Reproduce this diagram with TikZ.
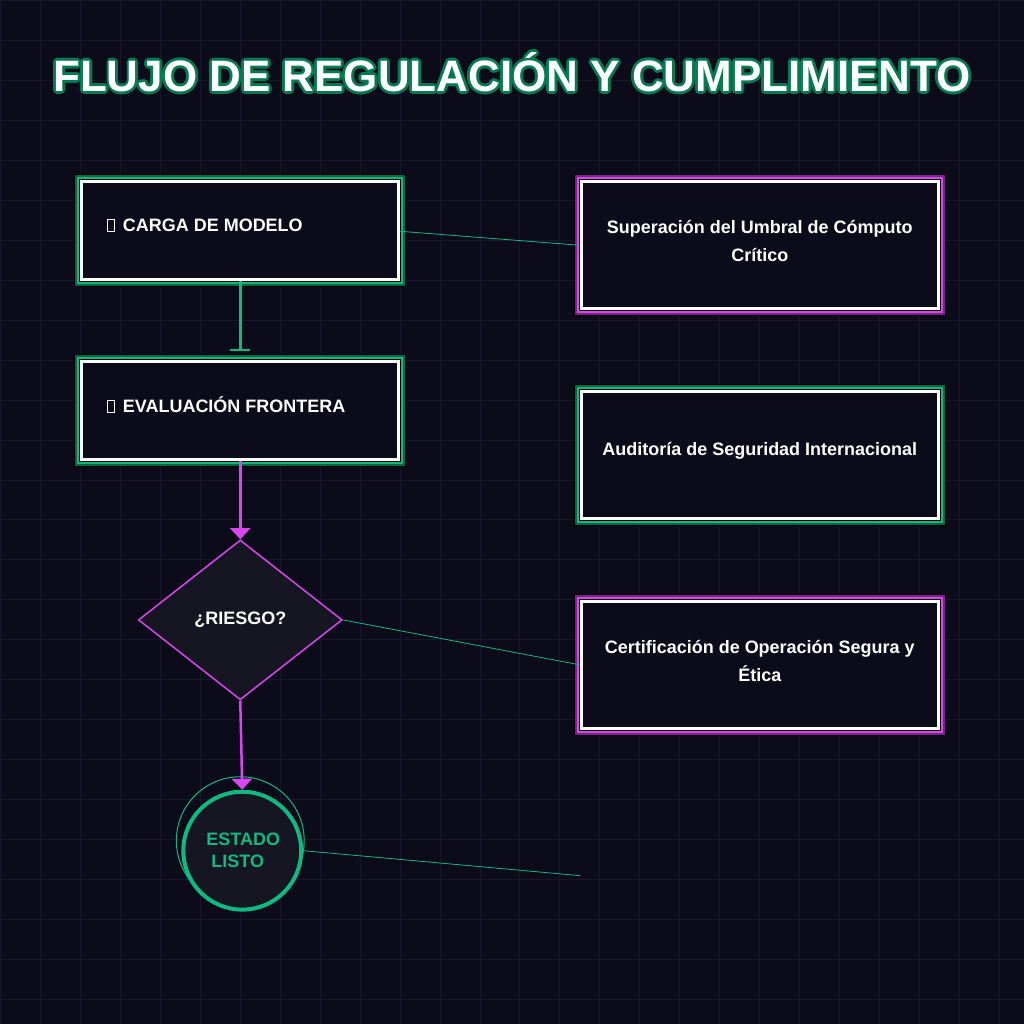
\documentclass[tikz,border=0pt]{standalone}
\usepackage{fontspec}
\setmainfont{Liberation Sans}
\usetikzlibrary{shapes.geometric,arrows.meta}
\definecolor{bg}{HTML}{0B0B1A}
\definecolor{gridc}{HTML}{17172B}
\definecolor{gr}{HTML}{10B981}
\definecolor{dgr}{HTML}{067A50}
\definecolor{mag}{HTML}{D946EF}
\definecolor{dfill}{HTML}{161622}
\newcommand{\tofu}{\tikz[baseline=0pt]\draw[white,line width=1pt](0,0) rectangle (7pt,12pt);\hspace{8pt}}
\begin{document}
\begin{tikzpicture}[x=1pt,y=-1pt,
  txt/.style={text=white,font=\bfseries\fontsize{18}{28}\selectfont,align=center},
  link/.style={draw=gr,line width=0.8pt}]
\fill[bg] (0,0) rectangle (1024,1024);
\foreach \i in {0,40,...,1020}{\draw[gridc,line width=1pt] (\i,0)--(\i,1024); \draw[gridc,line width=1pt] (0,\i)--(1024,\i);}
\useasboundingbox (0,0) rectangle (1024,1024);
\foreach \dx/\dy in {-3/0,3/0,0/-3,0/3,-2/-2,2/2,-2/2,2/-2}
  \node[text=dgr,font=\bfseries\fontsize{44}{48}\selectfont] at (512+\dx,72+\dy) {FLUJO DE REGULACIÓN Y CUMPLIMIENTO};
\node[text=white,font=\bfseries\fontsize{44}{48}\selectfont] (title) at (512,72) {FLUJO DE REGULACIÓN Y CUMPLIMIENTO};
\newcommand{\fancybox}[6]{%
  \fill[black] (#2-6,#3-6) rectangle (#4+6,#5+6);
  \draw[#6!55!black,line width=4pt] (#2-3,#3-3) rectangle (#4+3,#5+3);
  \draw[#6,line width=2pt] (#2-2,#3-2) rectangle (#4+2,#5+2);
  \fill[bg] (#2,#3) rectangle (#4,#5);
  \draw[white,line width=3pt] (#2+1.5,#3+1.5) rectangle (#4-1.5,#5-1.5);
  \coordinate (#1) at ({(#2+#4)/2},{(#3+#5)/2});}
\fancybox{b1}{80}{180}{400}{281}{gr}
\fancybox{b2}{80}{360}{400}{461}{gr}
\fancybox{r1}{580}{180}{940}{310}{mag}
\fancybox{r2}{580}{390}{940}{520}{gr}
\fancybox{r3}{580}{600}{940}{730}{mag}
\node[txt,anchor=west] (t1) at (103,225) {\tofu CARGA DE MODELO};
\node[txt,anchor=west] (t2) at (103,405) {\tofu EVALUACIÓN FRONTERA};
\node[txt] (tr1) at (760,241) {Superación del Umbral de Cómputo\\Crítico};
\node[txt] (tr2) at (760,451) {Auditoría de Seguridad Internacional};
\node[txt] (tr3) at (760,661) {Certificación de Operación Segura y\\Ética};
\coordinate (b1e) at (400,231); \coordinate (r1w) at (580,245);
\coordinate (b1s) at (240,281); \coordinate (b2n) at (240,351);
\coordinate (b2s) at (240,461);
\node[diamond,draw=mag,fill=dfill,line width=1.5pt,minimum width=204pt,minimum height=160pt,inner sep=0pt,text=white,font=\bfseries\fontsize{18}{20}\selectfont] (d) at (240,620) {¿RIESGO?};
\draw[gr,line width=1pt] (240,841) circle (64);
\node[circle,draw=gr,fill=dfill,line width=4pt,minimum size=118pt,inner sep=0pt,text=gr,font=\bfseries\fontsize{18}{22}\selectfont,align=left] (c) at (242,851) {};
\node[text=gr,font=\bfseries\fontsize{18}{22}\selectfont,align=left] (ct) at (243,851) {ESTADO\\\ LISTO};
\coordinate (cend) at (580,876); \coordinate (r3w) at (580,665);
\draw[link] (b1e) -- (r1w);
\draw[link] (d.east) -- (r3w);
\draw[link] (c.east) -- (cend);
\draw[gr,line width=2.5pt,-{Bar[width=20pt,line width=2.5pt]}] (b1s) -- (b2n);
\draw[mag,line width=2.5pt,-{Triangle[width=20pt,length=11pt]}] (b2s) -- (d.north);
\draw[mag,line width=2.5pt,-{Triangle[width=20pt,length=11pt]}] (d.south) -- (c.north);
\end{tikzpicture}
\end{document}
